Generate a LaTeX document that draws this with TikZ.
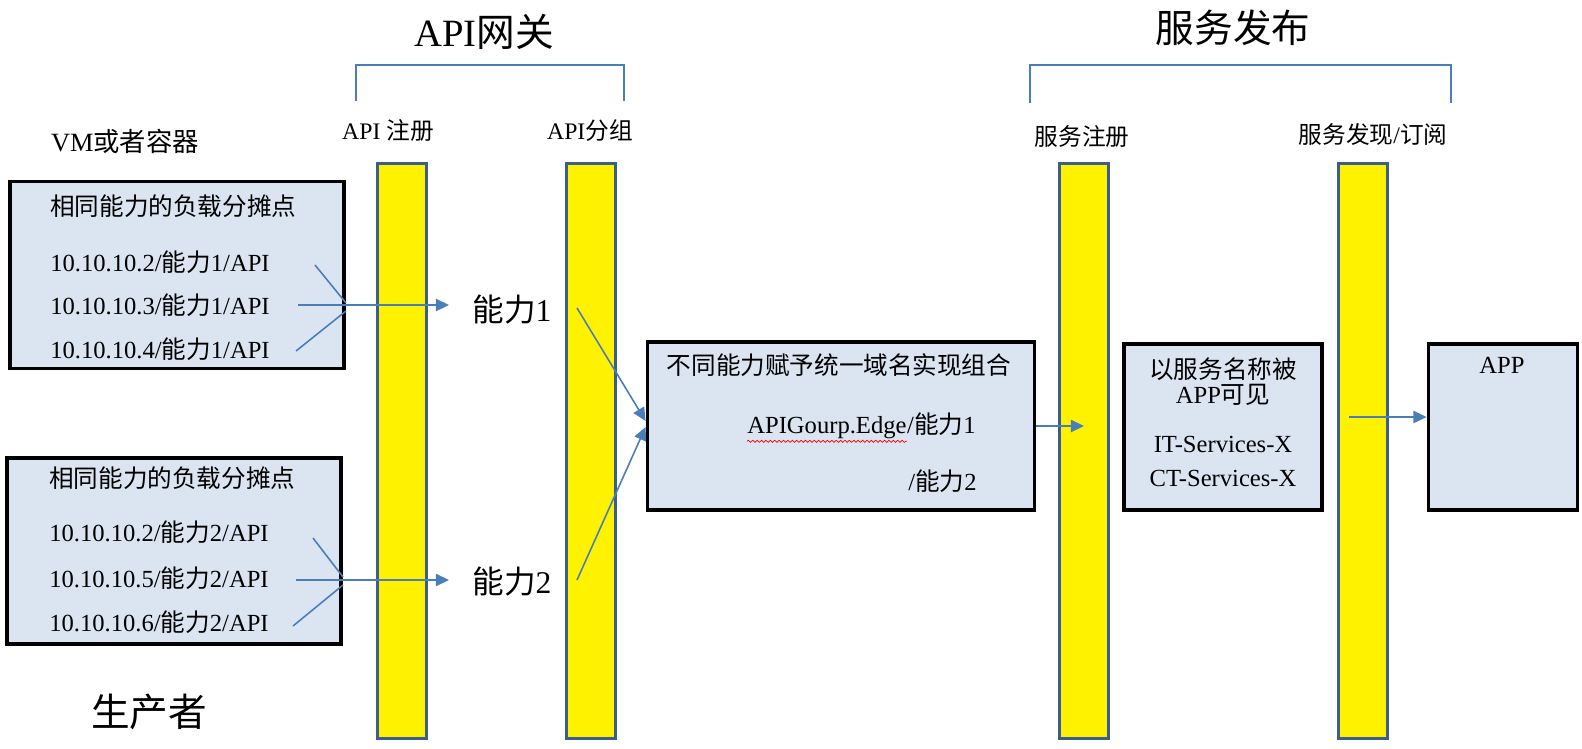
\documentclass[tikz,border=0pt]{standalone}
\usepackage{fontspec}
\setmainfont{Liberation Serif}
\newfontfamily\cjk{Noto Sans CJK SC}
\newcommand{\zh}[1]{{\cjk#1}}
\usepackage{xcolor}
\usetikzlibrary{calc,positioning,arrows.meta,decorations.pathmorphing}

\definecolor{panelfill}{HTML}{DBE5F1}
\definecolor{barblue}{HTML}{3A5F8F}
\definecolor{flowblue}{HTML}{4A7EBB}

\begin{document}
\begin{tikzpicture}[x=0.02cm,y=-0.02cm,
  bar/.style={draw=barblue,line width=1.7pt,fill=yellow,minimum width=0.98cm,minimum height=11.5cm,inner sep=0pt},
  panel/.style={draw=black,line width=2.2pt,fill=panelfill,inner sep=0pt},
  txt/.style={font=\fontsize{14}{16}\selectfont,inner sep=0pt},
  lbl/.style={font=\fontsize{13.5}{16}\selectfont,inner sep=0pt},
  head/.style={font=\fontsize{22}{26}\selectfont,inner sep=0pt},
  abil/.style={font=\fontsize{18}{21}\selectfont,inner sep=0pt},
  flow/.style={draw=flowblue,line width=0.9pt},
  arr/.style={flow,-{Triangle[length=7.5pt,width=7pt]}},
  brace/.style={draw=flowblue,line width=0.9pt}]
  \useasboundingbox (0,0) rectangle (1582,748);

  % headings and brackets
  \node[head] (gw) at (484,32) {API\zh{网关}};
  \node[head] (pub) at (1233,28) {\zh{服务发布}};
  \draw[brace] (356,101) |- (624,65) -- (624,101);
  \draw[brace] (1030,103) |- (1451,65) -- (1451,103);

  % column labels
  \node[font=\fontsize{15}{18}\selectfont,inner sep=0pt] (vm) at (125,141) {VM\zh{或者容器}};
  \node[lbl] (lreg) at (388,131) {API \zh{注册}};
  \node[lbl] (lgrp) at (590,131) {API\zh{分组}};
  \node[lbl] (lsreg) at (1082,137) {\zh{服务注册}};
  \node[lbl] (lsub) at (1373,134) {\zh{服务发现}/\zh{订阅}};

  % yellow columns
  \node[bar] (apireg) at (402,451) {};
  \node[bar] (apigrp) at (591,451) {};
  \node[bar] (svcreg) at (1084,451) {};
  \node[bar] (svcsub) at (1363,451) {};

  % producer boxes
  \node[panel,minimum width=6.68cm,minimum height=3.74cm] (pool1) at (177,275) {};
  \node[panel,minimum width=6.68cm,minimum height=3.72cm] (pool2) at (174,551) {};
  \node[txt,anchor=west] (pool1t) at (50,206) {\zh{相同能力的负载分摊点}};
  \node[txt,anchor=west] (pool2t) at (49,478) {\zh{相同能力的负载分摊点}};
  \foreach \n/\ip/\y in {a/2/262,b/3/305,c/4/349}
    \node[txt,anchor=west] (ep1\n) at (50,\y) {10.10.10.\ip/\zh{能力}1/API};
  \foreach \n/\ip/\y in {a/2/532,b/5/578,c/6/622}
    \node[txt,anchor=west] (ep2\n) at (49,\y) {10.10.10.\ip/\zh{能力}2/API};
  \node[head] (prod) at (149,712) {\zh{生产者}};

  % capabilities
  \node[abil] (cap1) at (512,310) {\zh{能力}1};
  \node[abil] (cap2) at (512,582) {\zh{能力}2};

  % fan-in to capability 1
  \coordinate (f1a) at (315,265);
  \coordinate (f1b) at (298,305);
  \coordinate (f1c) at (296,351);
  \coordinate (t1) at (449,305);
  \draw[flow] (f1a) -- (346,303);
  \draw[flow] (f1c) -- (346,311);
  \draw[arr] (f1b) -- (t1);
  % fan-in to capability 2
  \coordinate (f2a) at (313,538);
  \coordinate (f2b) at (296,580);
  \coordinate (f2c) at (293,626);
  \coordinate (t2) at (449,580);
  \draw[flow] (f2a) -- (343,577);
  \draw[flow] (f2c) -- (343,585);
  \draw[arr] (f2b) -- (t2);

  % domain box
  \node[panel,minimum width=7.74cm,minimum height=3.36cm] (dom) at (841,426) {};
  \node[txt] (domt) at (839,365) {\zh{不同能力赋予统一域名实现组合}};
  \node[txt,anchor=west] (edge) at (747,428) {APIGourp.Edge};
  \node[txt,anchor=base west] (edgecap1) at (edge.base east) {/\zh{能力}1};
  \node[txt,anchor=west] (edgecap2) at (908,481) {/\zh{能力}2};
  \draw[red,line width=0.4pt,decorate,decoration={snake,amplitude=0.6pt,segment length=2.5pt}]
    ([yshift=-1pt]edge.south west) -- ([yshift=-1pt]edge.south east);

  \coordinate (c1s) at (577,308);
  \coordinate (c2s) at (577,580);
  \draw[arr] (c1s) -- ($(dom.west)+(0,-5)$);
  \draw[arr] (c2s) -- ($(dom.west)+(0,1)$);
  \draw[arr] (dom.east) -- (dom.east -| svcreg.center);

  % service box
  \node[panel,minimum width=3.96cm,minimum height=3.32cm] (svc) at (1223,427) {};
  \node[txt] (svc1) at (1223,369) {\zh{以服务名称被}};
  \node[txt] (svc2) at (1223,395) {APP\zh{可见}};
  \node[txt] (svc3) at (1223,444) {IT-Services-X};
  \node[txt] (svc4) at (1223,478) {CT-Services-X};

  % consumer
  \node[panel,minimum width=2.98cm,minimum height=3.32cm] (app) at (1503,427) {};
  \node[txt] (appt) at (1502,365) {APP};
  \coordinate (subout) at (1349,417);
  \draw[arr] (subout) -- (subout -| app.west);
\end{tikzpicture}
\end{document}
